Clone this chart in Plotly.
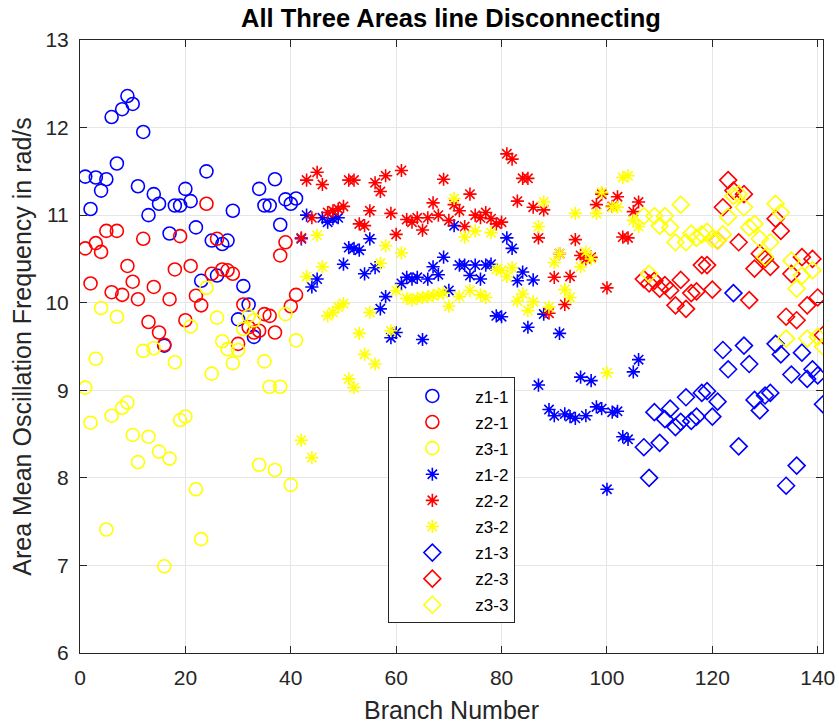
import plotly.graph_objects as go

# Branch numbers for each disconnection group
branches_1 = list(range(1, 42))
branches_2 = list(range(42, 107))
branches_3 = list(range(107, 142))

# Group 1 (branches 1-41)
z1_1 = [11.44, 11.07, 11.43, 11.28, 11.41, 12.12, 11.59, 12.21, 12.36, 12.27,
        11.33, 11.95, 11.00, 11.24, 11.13, 9.51, 10.79, 11.11, 11.11, 11.30,
        11.16, 10.86, 10.25, 11.50, 10.71, 10.31, 10.67, 10.71, 11.05, 9.81,
        10.19, 9.98, 9.61, 11.30, 11.11, 11.11, 11.41, 10.89, 11.18, 11.13, 11.19]
z2_1 = [10.62, 10.22, 10.68, 10.58, 10.82, 10.12, 10.82, 10.09, 10.42, 10.24,
        10.04, 10.73, 9.78, 10.18, 9.66, 9.52, 10.04, 10.38, 10.76, 9.80,
        10.42, 10.08, 9.97, 11.13, 10.33, 10.73, 10.38, 10.37, 10.33, 9.53,
        9.98, 9.72, 9.66, 9.68, 9.87, 9.85, 9.66, 10.54, 10.69, 9.96, 10.09]
z3_1 = [9.03, 8.63, 9.36, 9.94, 7.41, 8.71, 9.84, 8.80, 8.86, 8.49,
        8.18, 9.45, 8.47, 9.48, 8.30, 6.99, 8.22, 9.32, 8.66, 8.70,
        9.73, 7.87, 7.30, 10.17, 9.19, 9.83, 9.56, 9.47, 9.31, 9.46,
        9.70, 9.85, 9.80, 8.15, 9.33, 9.04, 8.09, 9.04, 9.87, 7.92, 9.57]

# Group 2 (branches 42-106)
z1_2 = [10.73, 11.00, 10.18, 10.27, 10.97, 10.92, 10.96, 10.97, 10.44, 10.63,
        10.62, 10.60, 10.33, 10.73, 10.40, 9.93, 10.07, 9.60, 9.66, 10.22,
        10.29, 10.27, 10.29, 9.58, 10.27, 10.41, 10.32, 10.52, 10.14, 10.88,
        10.43, 10.43, 10.31, 10.43, 10.27, 10.43, 10.44, 9.85, 9.84, 10.74,
        10.62, 10.25, 10.35, 9.72, 10.26, 9.06, 9.87, 8.78, 8.71, 9.65,
        8.73, 8.70, 8.68, 9.15, 8.71, 9.11, 8.81, 8.79, 7.87, 8.75,
        8.76, 8.47, 8.44, 9.21, 9.35]
z2_2 = [10.74, 11.40, 10.97, 11.49, 11.35, 11.03, 11.05, 11.07, 11.10, 11.40,
        11.40, 10.90, 10.88, 11.05, 11.37, 11.27, 11.45, 11.02, 10.78, 11.51,
        10.95, 10.92, 10.97, 10.83, 10.97, 11.14, 11.00, 11.41, 10.94, 11.12,
        11.05, 10.87, 11.24, 11.00, 10.97, 11.03, 10.96, 10.90, 10.92, 11.70,
        11.64, 11.16, 11.42, 11.42, 11.09, 10.74, 11.06, 9.88, 10.29, 10.56,
        9.98, 10.30, 10.72, 10.54, 10.50, 10.52, 11.12, 11.24, 10.17, 11.10,
        11.21, 10.75, 10.74, 11.04, 11.15]
z3_2 = [8.43, 10.30, 8.23, 10.77, 10.41, 9.85, 9.89, 9.95, 9.99, 9.13,
        9.03, 9.65, 9.41, 9.89, 9.30, 10.45, 10.65, 9.68, 10.14, 10.57,
        10.05, 10.03, 10.05, 10.06, 10.07, 10.08, 10.10, 10.11, 9.96, 11.19,
        10.07, 10.75, 10.14, 10.82, 10.09, 10.06, 10.80, 10.38, 10.37, 10.30,
        10.40, 10.02, 10.10, 9.91, 10.01, 10.87, 11.15, 9.95, 10.46, 10.56,
        10.15, 10.06, 11.02, 10.41, 10.58, 10.50, 11.02, 11.26, 9.20, 11.09,
        11.09, 11.43, 11.45, 10.94, 10.87]

# Group 3 (branches 107-141)
z1_3 = [8.35, 8.00, 8.75, 8.40, 8.67, 8.79, 8.58, 8.64, 8.92, 8.65,
        8.70, 8.97, 8.99, 8.70, 8.87, 9.46, 9.24, 10.11, 8.36, 9.51,
        9.30, 8.89, 8.77, 8.94, 8.97, 9.53, 9.41, 7.91, 9.18, 8.14,
        9.43, 9.13, 9.24, 9.17, 8.84]
z2_3 = [10.27, 10.22, 10.25, 10.16, 10.20, 10.14, 9.97, 10.26, 9.93, 10.11,
        10.13, 10.43, 10.43, 10.15, 10.71, 11.09, 11.40, 11.28, 10.69, 11.24,
        10.03, 10.39, 10.56, 10.50, 10.41, 10.96, 10.82, 9.84, 10.33, 9.80,
        10.52, 9.97, 10.50, 10.06, 9.63]
z3_3 = [10.99, 10.33, 10.99, 10.88, 10.99, 10.86, 10.69, 11.12, 10.69, 10.79,
        10.74, 10.78, 10.81, 10.73, 10.71, 10.78, 10.98, 11.22, 11.24, 11.09,
        10.86, 10.90, 10.73, 10.52, 10.69, 11.13, 11.03, 9.59, 10.48, 10.16,
        10.31, 9.59, 10.37, 9.61, 9.50]

x_ticks = [0, 20, 40, 60, 80, 100, 120, 140]
y_ticks = [6, 7, 8, 9, 10, 11, 12, 13]

BLUE, RED, YELLOW = "#0000ff", "#ff0000", "#ffff00"
FONT = "Liberation Sans, Arial, Helvetica, sans-serif"

series = [
    ("z1-1", branches_1, z1_1, BLUE, "circle-open", 13),
    ("z2-1", branches_1, z2_1, RED, "circle-open", 13),
    ("z3-1", branches_1, z3_1, YELLOW, "circle-open", 13),
    ("z1-2", branches_2, z1_2, BLUE, "asterisk-open", 11),
    ("z2-2", branches_2, z2_2, RED, "asterisk-open", 11),
    ("z3-2", branches_2, z3_2, YELLOW, "asterisk-open", 11),
    ("z1-3", branches_3, z1_3, BLUE, "diamond-open", 13),
    ("z2-3", branches_3, z2_3, RED, "diamond-open", 13),
    ("z3-3", branches_3, z3_3, YELLOW, "diamond-open", 13),
]

fig = go.Figure()
for name, xs, ys, color, symbol, size in series:
    fig.add_trace(go.Scatter(
        x=xs, y=ys, mode="markers", name=name, legendgroup=name,
        marker=dict(symbol=symbol, size=size, color=color,
                    line=dict(color=color, width=1.6)),
    ))

axis_common = dict(
    showline=True, linecolor="#262626", linewidth=1, mirror="ticks",
    ticks="inside", ticklen=7, tickcolor="#262626", tickwidth=1,
    showgrid=True, gridcolor="#e6e6e6", gridwidth=1, zeroline=False,
    automargin=False, ticklabelstandoff=6,
    tickfont=dict(family=FONT, size=21, color="#262626"),
)

fig.update_layout(
    width=839, height=725,
    margin=dict(l=80, r=16, t=40, b=72),
    paper_bgcolor="white", plot_bgcolor="white",
    title=dict(text="<b>All Three Areas line Disconnecting</b>",
               x=0.5375, xanchor="center", y=0.975, yanchor="middle",
               font=dict(family=FONT, size=25.5, color="black")),
    xaxis=dict(range=[0, 141], tickvals=x_ticks,
               title=dict(text="Branch Number", standoff=13,
                          font=dict(family=FONT, size=25, color="#262626")),
               **axis_common),
    yaxis=dict(range=[6, 13], tickvals=y_ticks,
               title=dict(text="Area Mean Oscillation Frequency in rad/s", standoff=6,
                          font=dict(family=FONT, size=25, color="#262626")),
               **axis_common),
    legend=dict(x=0.415, y=0.4496, xanchor="left", yanchor="top",
                bgcolor="white", bordercolor="#262626", borderwidth=1,
                font=dict(family=FONT, size=17, color="black"),
                tracegroupgap=1, itemwidth=76),
    showlegend=True,
)

fig.write_html("out.html")
